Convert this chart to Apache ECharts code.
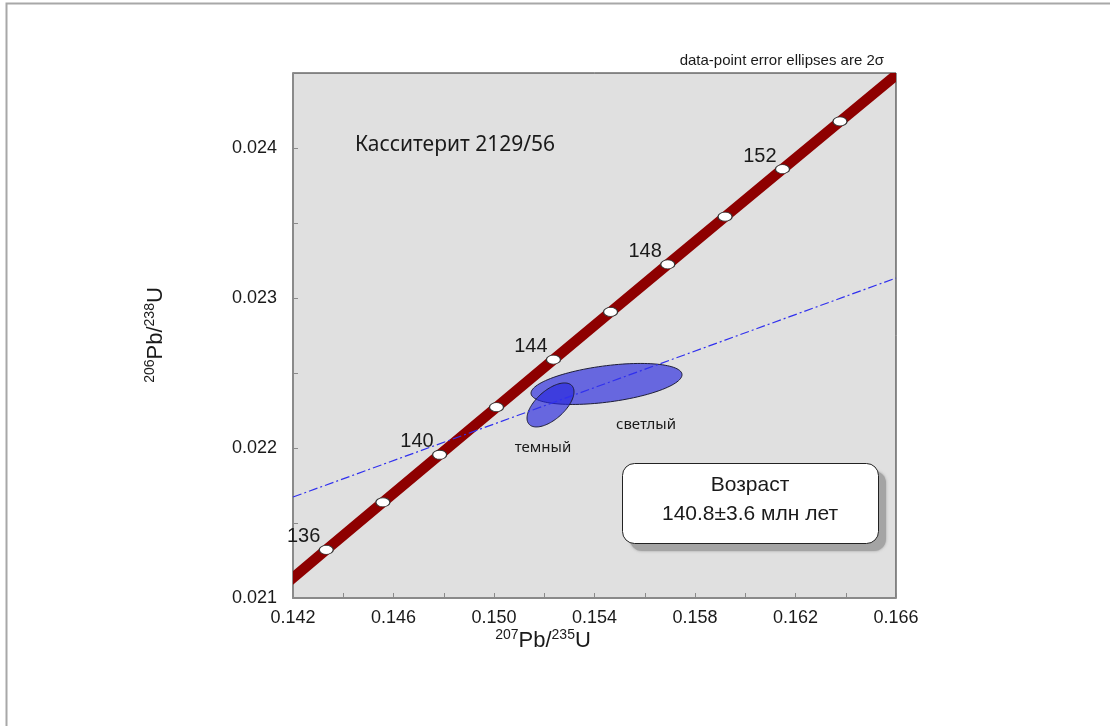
<!DOCTYPE html>
<html>
<head>
<meta charset="utf-8">
<script src="https://cdn.jsdelivr.net/npm/echarts@6/dist/echarts.min.js"></script>
<style>html,body{margin:0;padding:0;background:#fff;}#c{width:1110px;height:726px;}</style>
</head>
<body>
<div id="c"></div>
<script>
// Concordia curve (207Pb/235U, 206Pb/238U)
const concordiaX = [0.141074, 0.143323, 0.145578, 0.147836, 0.150099, 0.152366, 0.154639, 0.156916, 0.159197, 0.161482, 0.163771, 0.167215];
const concordiaY = [0.021004, 0.021321, 0.021638, 0.021955, 0.022272, 0.022589, 0.022907, 0.023224, 0.023542, 0.023859, 0.024177, 0.024654];
// Age markers on concordia (Ma)
const markerAges = [136, 138, 140, 142, 144, 146, 148, 150, 152, 154];
const markerX = [0.143323, 0.145578, 0.147836, 0.150099, 0.152366, 0.154639, 0.156916, 0.159197, 0.161482, 0.163771];
const markerY = [0.021321, 0.021638, 0.021955, 0.022272, 0.022589, 0.022907, 0.023224, 0.023542, 0.023859, 0.024177];
const labeledAges = [136, 140, 144, 148, 152];
// Discordia line
const discordX = [0.142, 0.166];
const discordY = [0.021673, 0.023133];
// Error ellipses (2 sigma): centre, half-widths, correlation
const ellipseNames = ['светлый', 'темный'];
const ellipseX = [0.154478, 0.152249];
const ellipseY = [0.022427, 0.022287];
const ellipseSX = [0.003005, 0.000935];
const ellipseSY = [0.0001367, 0.0001467];
const ellipseRho = [0.45, 0.6];

const chart = echarts.init(document.getElementById('c'), null, {renderer: 'canvas'});
const AX = '"Liberation Sans", Arial, sans-serif';
const CAL = '"Noto Sans", "Open Sans", sans-serif';

const option = {
  animation: false,
  backgroundColor: '#ffffff',
  grid: {left: 293, right: 214, top: 73, bottom: 128, show: true, backgroundColor: '#e0e0e0', borderColor: '#222', borderWidth: 1, outerBoundsMode: 'none'},
  xAxis: {
    type: 'value', min: 0.142, max: 0.166, interval: 0.002,
    axisLine: {show: true, onZero: false, lineStyle: {color: '#8a8a8a', width: 2}},
    axisTick: {show: true, inside: true, length: 5, lineStyle: {color: '#8a8a8a'}},
    splitLine: {show: false},
    axisLabel: {
      margin: 11, color: '#1a1a1a', fontSize: 18, fontFamily: AX,
      formatter: function (v) { return Math.round(v * 500) % 2 === 1 ? v.toFixed(3) : ''; }
    }
  },
  yAxis: {
    type: 'value', min: 0.021, max: 0.0245, interval: 0.0005,
    axisLine: {show: true, onZero: false, lineStyle: {color: '#8a8a8a', width: 2}},
    axisTick: {show: true, inside: true, length: 5, lineStyle: {color: '#8a8a8a'}},
    splitLine: {show: false},
    axisLabel: {
      margin: 16, color: '#1a1a1a', fontSize: 18, fontFamily: AX, showMaxLabel: false,
      formatter: function (v) { return Math.round(v * 2000) % 2 === 0 ? v.toFixed(3) : ''; }
    }
  },
  series: [
    {
      type: 'custom', z: 2, silent: true, clip: true,
      data: [[concordiaX[0], concordiaY[0]]],
      renderItem: function (params, api) {
        const pts = concordiaX.map((x, i) => api.coord([x, concordiaY[i]]));
        return {type: 'polyline', shape: {points: pts}, style: {fill: null, stroke: '#8e0000', lineWidth: 10.5, lineCap: 'butt', lineJoin: 'round'}};
      }
    },
    {
      type: 'custom', z: 3, silent: true,
      data: ellipseX.map((x, i) => [x, ellipseY[i], ellipseSX[i], ellipseSY[i], ellipseRho[i]]),
      renderItem: function (params, api) {
        const cx = api.value(0), cy = api.value(1), sx = api.value(2), sy = api.value(3), r = api.value(4);
        const q = Math.sqrt(1 - r * r);
        const pts = [];
        for (let k = 0; k < 120; k++) {
          const t = k / 120 * Math.PI * 2;
          pts.push(api.coord([cx + sx * Math.cos(t), cy + sy * (r * Math.cos(t) + q * Math.sin(t))]));
        }
        return {type: 'polygon', shape: {points: pts}, style: {fill: 'rgba(40,40,222,0.66)', stroke: '#1e1e38', lineWidth: 1}};
      }
    },
    {
      type: 'line', silent: true, showSymbol: false, z: 4,
      data: discordX.map((x, i) => [x, discordY[i]]),
      lineStyle: {color: '#3030ee', width: 1.2, type: [9, 3, 2, 3]}
    },
    {
      type: 'scatter', z: 5, silent: true,
      symbol: 'circle', symbolSize: [14, 9],
      itemStyle: {color: '#ffffff', borderColor: '#333', borderWidth: 1, opacity: 1},
      data: markerX.map((x, i) => ({
        value: [x, markerY[i]],
        label: {show: labeledAges.indexOf(markerAges[i]) >= 0}
      })),
      label: {
        show: false,
        formatter: function (p) { return String(markerAges[p.dataIndex]); },
        position: [-15, -8], align: 'center', verticalAlign: 'middle',
        fontSize: 20, color: '#1a1a1a', fontFamily: AX
      }
    }
  ],
  graphic: [
    {type: 'rect', silent: true, z: 0, shape: {x: 6.5, y: 3.5, width: 1200, height: 800}, style: {fill: 'none', stroke: '#a8a8a8', lineWidth: 2}},
    {type: 'text', x: 884, y: 61, style: {text: 'data-point error ellipses are 2σ', font: '15px ' + AX, fill: '#1a1a1a', textAlign: 'right', textVerticalAlign: 'middle'}},
    {type: 'text', x: 455, y: 145, z: 10, style: {text: 'Касситерит 2129/56', font: '21px ' + CAL, fill: '#1a1a1a', textAlign: 'center', textVerticalAlign: 'middle'}},
    {type: 'text', x: 646, y: 425, z: 10, style: {text: ellipseNames[0], font: '15px ' + CAL, fill: '#1a1a1a', textAlign: 'center', textVerticalAlign: 'middle'}},
    {type: 'text', x: 543, y: 448, z: 10, style: {text: ellipseNames[1], font: '15px ' + CAL, fill: '#1a1a1a', textAlign: 'center', textVerticalAlign: 'middle'}},
    {type: 'rect', z: 9, silent: true, shape: {x: 630, y: 471, width: 256, height: 80, r: 12},
      style: {fill: '#a4a4a4', shadowColor: 'rgba(120,120,120,0.6)', shadowBlur: 3}},
    {type: 'rect', z: 10, shape: {x: 622.5, y: 463.5, width: 256, height: 80, r: 12},
      style: {fill: '#ffffff', stroke: '#222', lineWidth: 1}},
    {type: 'text', x: 750, y: 485, z: 11, style: {text: 'Возраст', font: '21px ' + AX, fill: '#1a1a1a', textAlign: 'center', textVerticalAlign: 'middle'}},
    {type: 'text', x: 750, y: 514, z: 11, style: {text: '140.8±3.6 млн лет', font: '21px ' + AX, fill: '#1a1a1a', textAlign: 'center', textVerticalAlign: 'middle'}},
    {type: 'text', x: 543, y: 640, z: 11, style: {
      text: '{s|207}{m|Pb/}{s|235}{m|U}', textAlign: 'center', textVerticalAlign: 'middle',
      rich: {s: {fontSize: 14, fontFamily: AX, fill: '#1a1a1a', verticalAlign: 'top', lineHeight: 24}, m: {fontSize: 22, fontFamily: AX, fill: '#1a1a1a', lineHeight: 24, verticalAlign: 'bottom'}}
    }},
    {type: 'text', x: 155, y: 335, rotation: Math.PI / 2, z: 11, style: {
      text: '{s|206}{m|Pb/}{s|238}{m|U}', textAlign: 'center', textVerticalAlign: 'middle',
      rich: {s: {fontSize: 14, fontFamily: AX, fill: '#1a1a1a', verticalAlign: 'top', lineHeight: 24}, m: {fontSize: 22, fontFamily: AX, fill: '#1a1a1a', lineHeight: 24, verticalAlign: 'bottom'}}
    }}
  ]
};
chart.setOption(option);
</script>
</body>
</html>
